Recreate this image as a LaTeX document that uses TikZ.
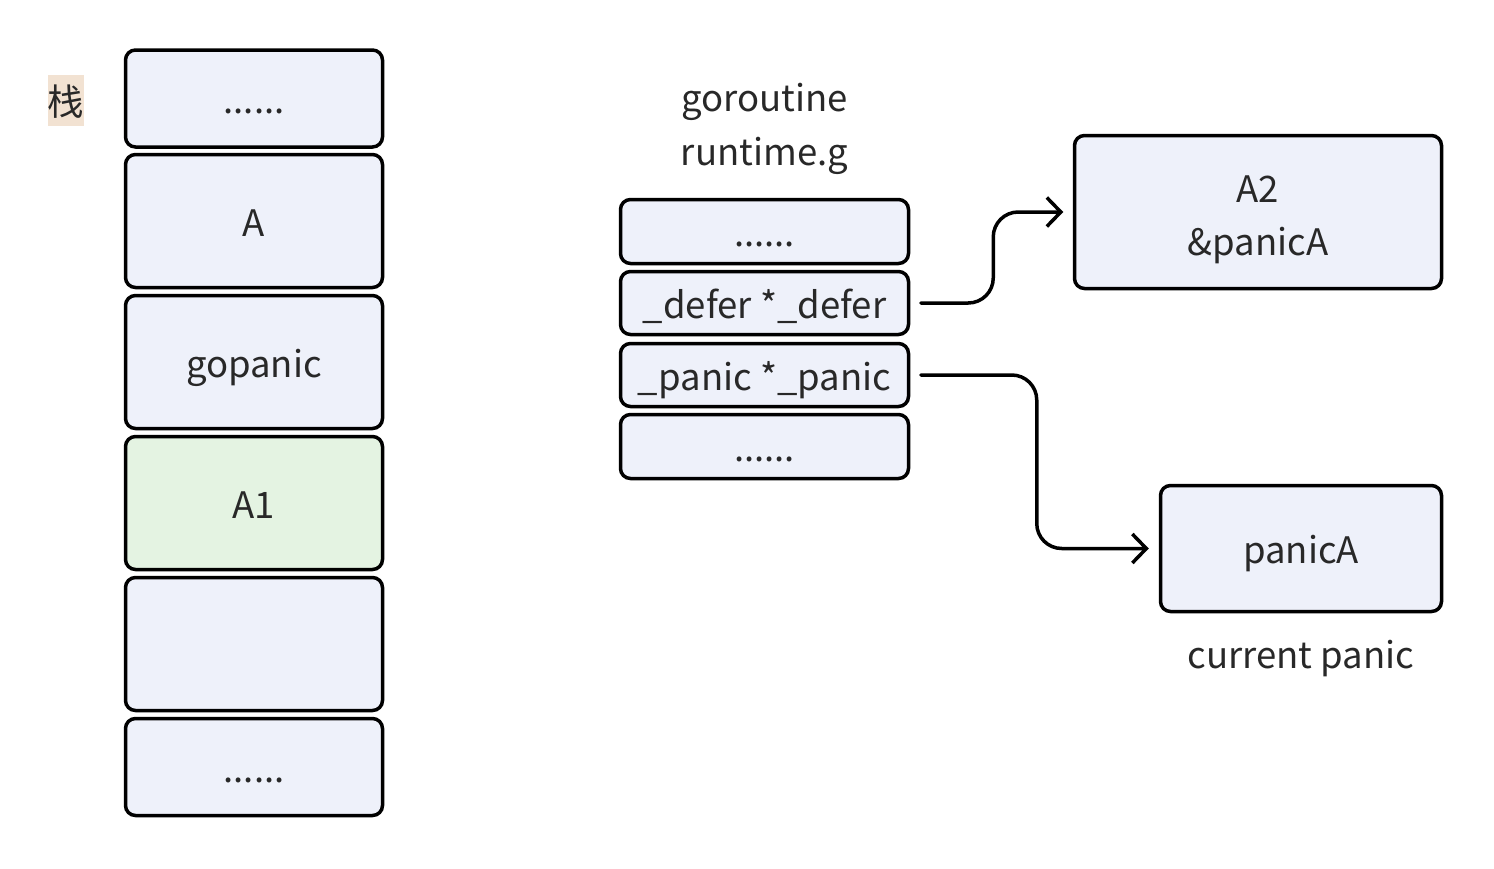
\documentclass[tikz,border=0pt]{standalone}
\usepackage{fontspec}
\setmainfont{Noto Sans CJK SC}
\usetikzlibrary{arrows.meta}
\definecolor{boxblue}{RGB}{238,241,250}
\definecolor{boxgreen}{RGB}{228,243,226}
\definecolor{tagbeige}{RGB}{242,226,210}
\definecolor{txt}{RGB}{40,40,40}

\begin{document}
\begin{tikzpicture}[x=1pt,y=-1pt,
  cell/.style={draw=black, line width=3.5pt, rounded corners=10pt, fill=boxblue,
    text=txt, font=\fontsize{36.5}{53}\selectfont, text height=34pt, text depth=4pt,
    inner sep=0pt, align=center},
  lbl/.style={text=txt, font=\fontsize{36.5}{54}\selectfont, text height=34pt,
    text depth=4pt, inner sep=0pt, align=center},
  conn/.style={draw=black, line width=3.5pt, rounded corners=25pt, line cap=round,
    -{Straight Barb[length=14pt,width=29pt]}}]
\useasboundingbox (0,0) rectangle (1494,868);
\pgfmathsetmacro{\sx}{254}
\pgfmathsetmacro{\gx}{764.5}

\begin{scope}
\node[lbl, fill=tagbeige, minimum width=36pt, minimum height=51pt] (tag) at (66,100.5) {栈};
\node[cell, minimum width=257pt, minimum height=97pt] (s1) at (\sx,98.5) {......};
\node[cell, minimum width=257pt, minimum height=133pt] (s2) at (\sx,221) {A};
\node[cell, minimum width=257pt, minimum height=133pt] (s3) at (\sx,362) {gopanic};
\node[cell, minimum width=257pt, minimum height=133pt, fill=boxgreen] (s4) at (\sx,503) {A1};
\node[cell, minimum width=257pt, minimum height=133pt] (s5) at (\sx,644) {};
\node[cell, minimum width=257pt, minimum height=97pt] (s6) at (\sx,767) {......};
\end{scope}

\begin{scope}
\node[lbl] (gtitle) at (\gx,150) {goroutine\\runtime.g};
\node[cell, minimum width=288pt, minimum height=64pt] (g1) at (\gx,231.5) {......};
\node[cell, minimum width=288pt, minimum height=63pt] (g2) at (\gx,303) {\_defer *\_defer};
\node[cell, minimum width=288pt, minimum height=63pt] (g3) at (\gx,375) {\_panic *\_panic};
\node[cell, minimum width=288pt, minimum height=64pt] (g4) at (\gx,446.5) {......};
\end{scope}

\begin{scope}
\node[cell, minimum width=367pt, minimum height=153pt, text height=90pt] (da) at (1258,212) {A2\\\&panicA};
\node[cell, minimum width=281pt, minimum height=126pt] (pa) at (1301,548.5) {panicA};
\node[lbl] (cur) at (1301,653) {current panic};
\end{scope}

\draw[conn, shorten <=10.5pt, shorten >=9.5pt] (g2.east) -- ++(83,0) |- (da.west);
\draw[conn, shorten <=10.5pt, shorten >=10pt] (g3.east) -- ++(126.5,0) |- (pa.west);
\end{tikzpicture}
\end{document}
